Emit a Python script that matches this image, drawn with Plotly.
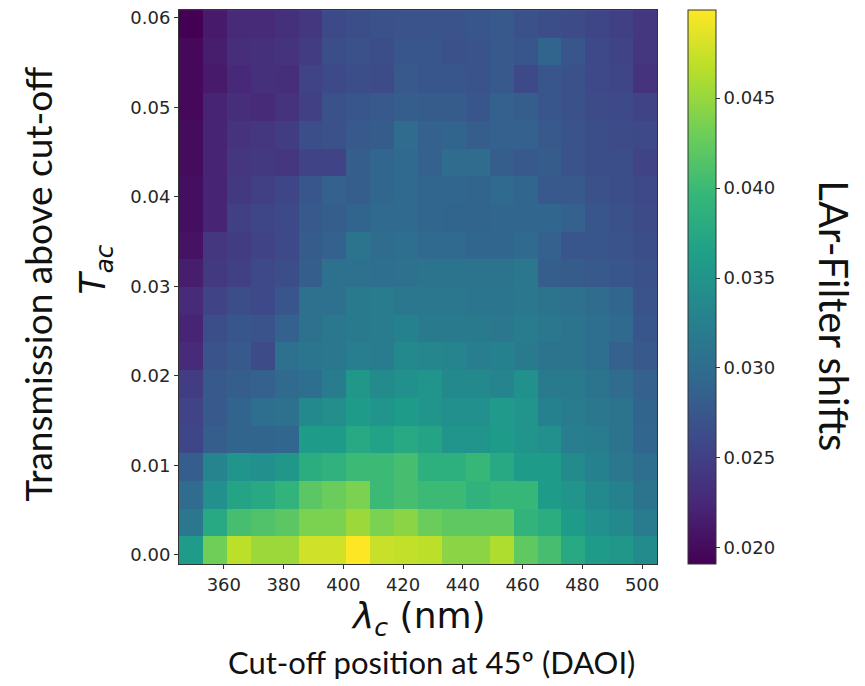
import plotly.graph_objects as go

# Cut-off wavelength centres (nm) and transmission-above-cut-off centres
cutoff_nm = [349, 357, 365, 373, 381, 389, 397, 405, 413, 421,
             429, 437, 445, 453, 461, 469, 477, 485, 493, 501]
t_ac = [0.00052, 0.00361, 0.00671, 0.00980, 0.01290, 0.01600, 0.01909,
        0.02219, 0.02528, 0.02838, 0.03147, 0.03457, 0.03766, 0.04076,
        0.04385, 0.04695, 0.05004, 0.05314, 0.05624, 0.05933]

# LAr-Filter shifts, one row per T_ac value (bottom row first)
shift_row00 = [0.0360, 0.0431, 0.0468, 0.0453, 0.0453, 0.0477, 0.0477, 0.0499, 0.0474, 0.0471, 0.0468, 0.0444, 0.0444, 0.0462, 0.0422, 0.0407, 0.0376, 0.0360, 0.0354, 0.0339]
shift_row01 = [0.0314, 0.0376, 0.0407, 0.0413, 0.0419, 0.0437, 0.0437, 0.0453, 0.0437, 0.0444, 0.0428, 0.0422, 0.0422, 0.0422, 0.0391, 0.0382, 0.0360, 0.0345, 0.0336, 0.0320]
shift_row02 = [0.0299, 0.0345, 0.0370, 0.0376, 0.0391, 0.0419, 0.0428, 0.0437, 0.0400, 0.0407, 0.0400, 0.0400, 0.0388, 0.0397, 0.0397, 0.0360, 0.0351, 0.0336, 0.0327, 0.0308]
shift_row03 = [0.0283, 0.0330, 0.0351, 0.0345, 0.0354, 0.0382, 0.0388, 0.0400, 0.0400, 0.0407, 0.0385, 0.0385, 0.0397, 0.0376, 0.0360, 0.0360, 0.0339, 0.0327, 0.0314, 0.0302]
shift_row04 = [0.0256, 0.0283, 0.0290, 0.0290, 0.0293, 0.0360, 0.0360, 0.0376, 0.0367, 0.0376, 0.0370, 0.0351, 0.0351, 0.0360, 0.0351, 0.0345, 0.0323, 0.0320, 0.0308, 0.0293]
shift_row05 = [0.0253, 0.0277, 0.0290, 0.0302, 0.0305, 0.0336, 0.0342, 0.0360, 0.0351, 0.0360, 0.0351, 0.0345, 0.0345, 0.0357, 0.0351, 0.0327, 0.0320, 0.0314, 0.0308, 0.0290]
shift_row06 = [0.0246, 0.0277, 0.0283, 0.0286, 0.0296, 0.0302, 0.0320, 0.0354, 0.0339, 0.0345, 0.0351, 0.0336, 0.0336, 0.0330, 0.0345, 0.0317, 0.0317, 0.0308, 0.0299, 0.0286]
shift_row07 = [0.0228, 0.0271, 0.0277, 0.0262, 0.0305, 0.0311, 0.0314, 0.0323, 0.0320, 0.0336, 0.0333, 0.0330, 0.0323, 0.0327, 0.0317, 0.0308, 0.0308, 0.0302, 0.0286, 0.0277]
shift_row08 = [0.0222, 0.0265, 0.0274, 0.0271, 0.0286, 0.0305, 0.0314, 0.0317, 0.0320, 0.0327, 0.0317, 0.0317, 0.0317, 0.0314, 0.0320, 0.0314, 0.0308, 0.0302, 0.0296, 0.0274]
shift_row09 = [0.0228, 0.0253, 0.0265, 0.0259, 0.0274, 0.0305, 0.0305, 0.0317, 0.0320, 0.0314, 0.0314, 0.0314, 0.0311, 0.0311, 0.0314, 0.0308, 0.0305, 0.0299, 0.0293, 0.0271]
shift_row10 = [0.0216, 0.0243, 0.0250, 0.0259, 0.0265, 0.0283, 0.0305, 0.0305, 0.0302, 0.0305, 0.0308, 0.0308, 0.0308, 0.0308, 0.0314, 0.0283, 0.0280, 0.0277, 0.0274, 0.0268]
shift_row11 = [0.0206, 0.0240, 0.0246, 0.0253, 0.0259, 0.0280, 0.0286, 0.0308, 0.0299, 0.0302, 0.0296, 0.0296, 0.0293, 0.0293, 0.0296, 0.0286, 0.0274, 0.0274, 0.0271, 0.0265]
shift_row12 = [0.0203, 0.0222, 0.0250, 0.0256, 0.0259, 0.0277, 0.0283, 0.0290, 0.0296, 0.0296, 0.0293, 0.0290, 0.0290, 0.0293, 0.0293, 0.0293, 0.0286, 0.0274, 0.0268, 0.0262]
shift_row13 = [0.0203, 0.0222, 0.0243, 0.0250, 0.0256, 0.0274, 0.0286, 0.0283, 0.0293, 0.0296, 0.0293, 0.0293, 0.0290, 0.0296, 0.0293, 0.0277, 0.0277, 0.0268, 0.0265, 0.0259]
shift_row14 = [0.0200, 0.0222, 0.0240, 0.0243, 0.0240, 0.0253, 0.0253, 0.0283, 0.0293, 0.0296, 0.0286, 0.0299, 0.0299, 0.0283, 0.0277, 0.0280, 0.0271, 0.0265, 0.0265, 0.0253]
shift_row15 = [0.0200, 0.0222, 0.0237, 0.0240, 0.0246, 0.0265, 0.0268, 0.0277, 0.0280, 0.0299, 0.0286, 0.0290, 0.0283, 0.0286, 0.0286, 0.0277, 0.0271, 0.0265, 0.0262, 0.0259]
shift_row16 = [0.0197, 0.0222, 0.0231, 0.0228, 0.0237, 0.0250, 0.0268, 0.0274, 0.0277, 0.0283, 0.0280, 0.0280, 0.0274, 0.0286, 0.0283, 0.0274, 0.0268, 0.0262, 0.0259, 0.0253]
shift_row17 = [0.0197, 0.0213, 0.0225, 0.0234, 0.0231, 0.0253, 0.0259, 0.0265, 0.0262, 0.0277, 0.0274, 0.0274, 0.0271, 0.0277, 0.0259, 0.0274, 0.0268, 0.0259, 0.0256, 0.0237]
shift_row18 = [0.0197, 0.0216, 0.0231, 0.0234, 0.0237, 0.0246, 0.0265, 0.0268, 0.0265, 0.0274, 0.0274, 0.0268, 0.0271, 0.0277, 0.0274, 0.0290, 0.0274, 0.0259, 0.0253, 0.0240]
shift_row19 = [0.0191, 0.0213, 0.0228, 0.0228, 0.0234, 0.0240, 0.0259, 0.0265, 0.0268, 0.0271, 0.0271, 0.0271, 0.0274, 0.0277, 0.0268, 0.0265, 0.0262, 0.0256, 0.0250, 0.0240]

shifts = [shift_row00, shift_row01, shift_row02, shift_row03, shift_row04,
          shift_row05, shift_row06, shift_row07, shift_row08, shift_row09,
          shift_row10, shift_row11, shift_row12, shift_row13, shift_row14,
          shift_row15, shift_row16, shift_row17, shift_row18, shift_row19]

x_ticks = [360, 380, 400, 420, 440, 460, 480, 500]
y_ticks = [0.00, 0.01, 0.02, 0.03, 0.04, 0.05, 0.06]
cb_ticks = [0.020, 0.025, 0.030, 0.035, 0.040, 0.045]

W, H = 865, 686
L, R, T, B = 179, 657, 7, 564


def px(xp):
    return (xp - L) / (R - L)


def py(yp):
    return (B - yp) / (B - T)


TICKFONT = dict(family="DejaVu Sans", size=18, color="#262626")

fig = go.Figure(go.Heatmap(
    x=cutoff_nm, y=t_ac, z=shifts,
    colorscale="Viridis", zmin=0.0191, zmax=0.0499,
    colorbar=dict(
        x=px(688), xanchor="left", xref="paper",
        y=0.5, yanchor="middle", len=1.0, lenmode="fraction",
        thickness=28, thicknessmode="pixels",
        outlinewidth=1, outlinecolor="#333333",
        tickvals=cb_ticks, ticktext=[f"{v:.3f}" for v in cb_ticks],
        ticks="outside", ticklen=4, tickwidth=1, tickcolor="#333333",
        tickfont=TICKFONT, xpad=0, ypad=0,
    ),
    hoverinfo="x+y+z",
))

fig.update_xaxes(
    range=[345, 505], tickvals=x_ticks, ticktext=[str(v) for v in x_ticks],
    ticks="outside", ticklen=4, tickwidth=1, tickcolor="#333333",
    showline=True, linecolor="#333333", linewidth=1, mirror=True,
    showgrid=False, zeroline=False, tickfont=TICKFONT,
)
fig.update_yaxes(
    range=[-0.00103, 0.06088], tickvals=y_ticks,
    ticktext=[f"{v:.2f}" for v in y_ticks],
    ticks="outside", ticklen=4, tickwidth=1, tickcolor="#333333",
    showline=True, linecolor="#333333", linewidth=1, mirror=True,
    showgrid=False, zeroline=False, tickfont=TICKFONT,
)

annotations = [
    dict(text="Transmission above cut-off", x=px(38), y=py(283), textangle=-90,
         font=dict(family="Lato", size=37, color="#111111")),
    dict(text="<i>T</i><sub><i>ac</i></sub>", x=px(96), y=py(268), textangle=-90,
         font=dict(family="DejaVu Sans", size=35, color="#111111")),
    dict(text="<i>λ</i><sub><i>c</i></sub> (nm)", x=px(418), y=py(619),
         font=dict(family="DejaVu Sans", size=36, color="#111111")),
    dict(text="Cut-off position at 45º (DAOI)", x=px(431), y=py(663),
         font=dict(family="Lato", size=31, color="#111111")),
    dict(text="LAr-Filter shifts", x=px(834), y=py(314), textangle=90,
         font=dict(family="Lato", size=40, color="#111111")),
]
for a in annotations:
    a.update(xref="paper", yref="paper", showarrow=False,
             xanchor="center", yanchor="middle")

fig.update_layout(
    width=W, height=H,
    margin=dict(l=L, r=W - R, t=T, b=H - B),
    paper_bgcolor="white", plot_bgcolor="white",
    annotations=annotations,
    showlegend=False,
)

fig.write_html("out.html")
